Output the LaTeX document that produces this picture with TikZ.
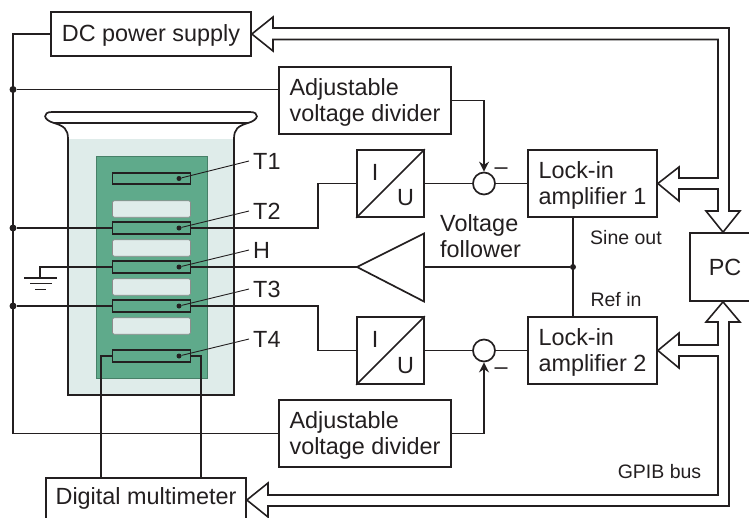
\documentclass[tikz,border=0pt]{standalone}
\usepackage{xcolor}
\usepackage{fontspec}
\setmainfont{Liberation Sans}
\usepackage{tikz}
\usetikzlibrary{arrows.meta}
\definecolor{inkc}{HTML}{231F20}
\definecolor{liquidc}{HTML}{DFECEA}
\definecolor{boardc}{HTML}{5FAA8B}
\newcommand{\bigtxt}{\fontsize{23.4}{26}\selectfont}
\newcommand{\smalltxt}{\fontsize{19.5}{24}\selectfont}
\tikzstyle{box} = [draw=inkc, rectangle, line width=1.7pt, inner sep=0pt, font=\bigtxt, text=inkc, align=left, fill=white]
\tikzstyle{boxtxt} = [font=\bigtxt, text=inkc, align=left, inner sep=0pt, yshift=-2pt]
\tikzstyle{term} = [draw=inkc, rectangle, line width=1.8pt, minimum width=78pt, minimum height=11.5pt, inner sep=0pt, fill=boardc]
\tikzstyle{spare} = [draw=gray!90, rectangle, rounded corners=2pt, line width=0.7pt, minimum width=78pt, minimum height=16.5pt, inner sep=0pt, fill=liquidc]
\tikzstyle{wire} = [draw=inkc, line width=1.7pt]
\tikzstyle{bus} = [draw=inkc, line width=1.6pt, miter limit=20]
\tikzstyle{leader} = [draw=inkc, line width=0.9pt]
\tikzstyle{dot} = [circle, fill=inkc, inner sep=0pt, minimum size=7pt]
\tikzstyle{pin} = [circle, fill=inkc, inner sep=0pt, minimum size=5pt]
\tikzstyle{sum} = [circle, draw=inkc, line width=1.7pt, minimum size=22pt, inner sep=0pt, fill=white]
\tikzstyle{lbl} = [font=\bigtxt, text=inkc, inner sep=0pt]
\tikzstyle{tag} = [font=\bigtxt, text=inkc, inner sep=4pt, anchor=west]
\tikzstyle{small} = [font=\smalltxt, text=inkc, inner sep=0pt]
\tikzstyle{arrow} = [wire,-{Stealth[length=10pt,width=10pt]}]
\begin{document}
\begin{tikzpicture}[x=1pt,y=-1pt]
        \useasboundingbox (0,0) rectangle (749,517);
        \clip (0,0) rectangle (749,517);
        % vessel
        \fill[liquidc] (68,139) rectangle (234,395);
        \draw[draw=boardc!75!black, fill=boardc, line width=0.7pt] (96,156) rectangle (207,378);
        \draw[wire] (68,139) -- (68,395) -- (234,395) -- (234,139);
        \draw[wire] (68,139) .. controls (68,129) and (64,126) .. (54,123);
        \draw[wire] (234,139) .. controls (234,129) and (238,126) .. (248,123);
        \draw[wire] (52,112) -- (250,112) .. controls (260,112) and (259,120) .. (248,123) -- (54,123) .. controls (43,120) and (42,112) .. (52,112) -- cycle;
        % plates
        \node[spare] (spareA) at (151.5,209) {};
        \node[spare] (spareB) at (151.5,248) {};
        \node[spare] (spareC) at (151.5,287) {};
        \node[spare] (spareD) at (151.5,326) {};
        \node[term] (termA) at (151.5,178.5) {};
        \node[term] (termB) at (151.5,228) {};
        \node[term] (termH) at (151.5,267) {};
        \node[term] (termC) at (151.5,306) {};
        \node[term] (termD) at (151.5,356) {};
        \node[pin] (pinA) at (179,178.5) {};
        \node[pin] (pinB) at (179,228) {};
        \node[pin] (pinH) at (179,267) {};
        \node[pin] (pinC) at (179,306) {};
        \node[pin] (pinD) at (179,356) {};
        \node[tag] (tagA) at (249,161) {T1};
        \node[tag] (tagB) at (249,211) {T2};
        \node[tag] (tagH) at (249,250) {H};
        \node[tag] (tagC) at (249,289) {T3};
        \node[tag] (tagD) at (249,339) {T4};
        \draw[leader] (pinA) -- (tagA.west);
        \draw[leader] (pinB) -- (tagB.west);
        \draw[leader] (pinH) -- (tagH.west);
        \draw[leader] (pinC) -- (tagC.west);
        \draw[leader] (pinD) -- (tagD.west);
        % blocks
        \node[box, minimum width=200pt, minimum height=44pt] (dcbox) at (151,34) {};
        \node[boxtxt, yshift=1pt] (dclbl) at (151,34) {DC power supply};
        \node[box, minimum width=172pt, minimum height=67pt] (divA) at (365,100.5) {};
        \node[boxtxt] (divAlbl) at (365,100.5) {Adjustable\\voltage divider};
        \node[box, minimum width=172pt, minimum height=67pt] (divB) at (365,433.5) {};
        \node[boxtxt] (divBlbl) at (365,433.5) {Adjustable\\voltage divider};
        \node[box, minimum width=67pt, minimum height=67pt] (iuA) at (390.5,183.5) {};
        \node[box, minimum width=67pt, minimum height=67pt] (iuB) at (390.5,350.5) {};
        \node[box, minimum width=129pt, minimum height=67pt] (lockA) at (592.5,183.5) {};
        \node[boxtxt] (lockAlbl) at (592.5,183.5) {Lock-in\\amplifier 1};
        \node[box, minimum width=129pt, minimum height=67pt] (lockB) at (592.5,350.5) {};
        \node[boxtxt] (lockBlbl) at (592.5,350.5) {Lock-in\\amplifier 2};
        \node[box, minimum width=66pt, minimum height=68pt] (pcbox) at (723,267) {};
        \node[lbl] (pclbl) at (725,267) {PC};
        \node[box, minimum width=200pt, minimum height=44pt] (dmbox) at (146,500) {};
        \node[lbl] (dmlbl) at (146,498) {Digital multimeter};
        \draw[wire] (iuA.south west) -- (iuA.north east);
        \draw[wire] (iuB.south west) -- (iuB.north east);
        \node[lbl] (iA) at (375,172) {I};
        \node[lbl] (uA) at (405.5,198) {U};
        \node[lbl] (iB) at (375,339) {I};
        \node[lbl] (uB) at (405.5,366) {U};
        \node[sum] (sumA) at (484,183.5) {};
        \node[sum] (sumB) at (484,350.5) {};
        \node[lbl] (minusA) at (501,171) {--};
        \node[lbl] (minusB) at (501,371) {--};
        % follower
        \coordinate (folTip) at (357,267);
        \coordinate (folBase) at (424,267);
        \draw[wire, fill=white, line join=miter] (folTip) -- (424,233.5) -- (424,301.5) -- cycle;
        \node[lbl, align=left, anchor=west] (follbl) at (440,236) {Voltage\\follower};
        \node[small] (sinelbl) at (626,238) {Sine out};
        \node[small] (reflbl) at (616,300) {Ref in};
        \node[small] (gpiblbl) at (659.5,472) {GPIB bus};
        % power rail
        \node[dot] (railA) at (13,89.5) {};
        \node[dot] (railB) at (13,228) {};
        \node[dot] (railC) at (13,306) {};
        \coordinate (railEnd) at (13,433.5);
        \draw[wire] (dcbox.west) -| (railEnd) -- (divB.west);
        \draw[wire] (railA) -- (railA -| divA.west);
        \draw[wire] (railB) -- (termB.west);
        \draw[wire] (railC) -- (termC.west);
        % signal path
        \coordinate (kneeA) at (318,228);
        \coordinate (kneeB) at (318,306);
        \draw[wire] (termB.east) -- (kneeA) |- (iuA.west);
        \draw[wire] (termC.east) -- (kneeB) |- (iuB.west);
        \draw[wire] (iuA.east) -- (sumA.west);
        \draw[wire] (iuB.east) -- (sumB.west);
        \draw[wire] (sumA.east) -- (lockA.west);
        \draw[wire] (sumB.east) -- (lockB.west);
        \draw[arrow] (divA.east) -| (sumA.north);
        \draw[arrow] (divB.east) -| (sumB.south);
        \node[dot, minimum size=6pt] (sineDot) at (573,267) {};
        \coordinate (sineTop) at (573,217);
        \coordinate (sineBot) at (573,317);
        \draw[wire] (sineTop) -- (sineBot);
        \draw[wire] (sineDot) -- (folBase);
        \draw[wire] (folTip) -- (termH.east);
        % ground
        \coordinate (gnd) at (40,278);
        \draw[wire] (termH.west) -| (gnd);
        \draw[wire] (24,278) -- (57,278);
        \draw[wire] (30,283.5) -- (52,283.5);
        \draw[wire] (35,289.5) -- (46,289.5);
        % multimeter leads
        \coordinate (leadA) at (101,478);
        \coordinate (leadB) at (201,478);
        \draw[wire] (termD.west) -| (leadA);
        \draw[wire] (termD.east) -| (leadB);
        % GPIB bus
        \draw[bus] (dcbox.east) -- (273,17) -- (273,28) -- (729,28) -- (729,211) -- (740,211) -- (pcbox.north) -- (706,211) -- (718,211) -- (718,189) -- (679,189) -- (679,201) -- (lockA.east) -- (679,167) -- (679,178) -- (718,178) -- (718,39.5) -- (273,39.5) -- (273,51) -- cycle;
        \draw[bus] (dmbox.east) -- (268,483) -- (268,495) -- (718,495) -- (718,356) -- (679,356) -- (679,368) -- (lockB.east) -- (679,333) -- (679,345) -- (718,345) -- (718,322) -- (706,322) -- (pcbox.south) -- (740,322) -- (729,322) -- (729,506) -- (268,506) -- (268,517) -- cycle;
    \end{tikzpicture}
\end{document}
